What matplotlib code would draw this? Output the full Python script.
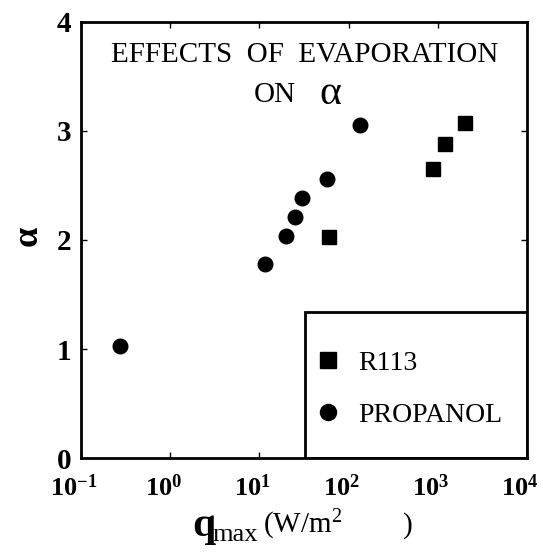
import numpy as np
import matplotlib.pyplot as plt
from matplotlib.patches import Rectangle
from matplotlib.transforms import ScaledTranslation

plt.rcParams['font.family'] = ['Liberation Serif', 'DejaVu Serif']
plt.rcParams['mathtext.fontset'] = 'custom'
plt.rcParams['mathtext.rm'] = 'Liberation Serif:bold'
plt.rcParams['mathtext.bf'] = 'Liberation Serif:bold'
plt.rcParams['mathtext.it'] = 'Liberation Serif:bold'

# data
q_propanol = [0.275, 11.6, 19.8, 24.9, 29.9, 57.8, 135]
a_propanol = [1.03, 1.78, 2.04, 2.21, 2.38, 2.56, 3.05]
q_r113 = [60, 878, 1190, 2000]
a_r113 = [2.03, 2.65, 2.88, 3.07]

xticks = [1e-1, 1e0, 1e1, 1e2, 1e3, 1e4]
xticklabels = [r'$10^{-1}$', r'$10^{0}$', r'$10^{1}$', r'$10^{2}$', r'$10^{3}$', r'$10^{4}$']
yticks = [0, 1, 2, 3, 4]

W, H = 543, 556
fig = plt.figure(figsize=(W / 100, H / 100), dpi=100)
ax = fig.add_axes([0.149, 0.176, 0.8215, 0.785])

ax.plot(q_r113, a_r113, 's', color='black', ms=10, label='R113', zorder=3)
ax.plot(q_propanol, a_propanol, 'o', color='black', ms=10.5, label='PROPANOL', zorder=3)

ax.set_xscale('log')
ax.set_xlim(1e-1, 1e4)
ax.set_ylim(0, 4)
ax.set_xticks(xticks)
ax.set_xticklabels(xticklabels, fontsize=19)
ax.minorticks_off()
ax.set_yticks(yticks)
ax.set_yticklabels([str(v) for v in yticks], fontsize=21, fontweight='bold')
ax.tick_params(direction='in', length=4, width=1, top=True, right=True)
ax.tick_params(axis='y', pad=7)
ax.tick_params(axis='x', pad=12)
# labels sit a little left of their ticks in the original
shift = ScaledTranslation(-7 / 100, 0, fig.dpi_scale_trans)
for lab in ax.get_xticklabels():
    lab.set_transform(lab.get_transform() + shift)

for s in ax.spines.values():
    s.set_linewidth(2)

# x label: big q, subscript "max", units
def px(x, y):
    return x / W, 1 - y / H

fig.text(*px(192, 536), 'q', fontsize=30, fontweight='bold', ha='left', va='baseline')
fig.text(*px(212, 541), 'max', fontsize=19, ha='left', va='baseline')
fig.text(*px(263, 533), r'(W/m$^{\mathregular{2}}$', fontsize=21, ha='left', va='baseline')
fig.text(*px(403, 533), ')', fontsize=21, ha='left', va='baseline')

fig.text(*px(28, 236), 'α', fontsize=26, fontweight='bold', rotation=90,
         ha='center', va='center')

ax.text(0.502, 0.924, 'EFFECTS  OF  EVAPORATION', transform=ax.transAxes,
        ha='center', va='center', fontsize=21)
ax.text(0.434, 0.833, 'ON', transform=ax.transAxes,
        ha='center', va='center', fontsize=21)
ax.text(0.56, 0.836, 'α', transform=ax.transAxes,
        ha='center', va='center', fontsize=30)

# legend box attached to bottom-right corner
ax.add_patch(Rectangle((0.502, 0.0), 0.498, 0.335, transform=ax.transAxes,
                       facecolor='white', edgecolor='black', lw=2, zorder=2))
leg = ax.legend(loc='upper left', bbox_to_anchor=(0.522, 0.247), frameon=False,
                fontsize=20, handletextpad=0.6, labelspacing=0.95,
                handlelength=1.0, borderpad=0, borderaxespad=0, markerscale=1.1)
leg.set_zorder(4)

fig.savefig('out.png', dpi=100)
